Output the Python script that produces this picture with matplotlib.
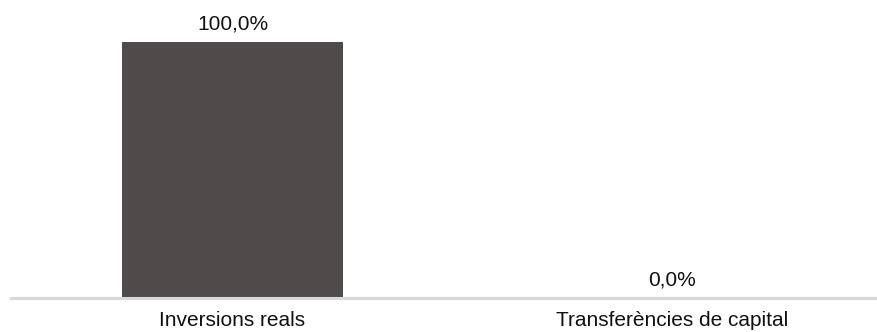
import matplotlib.pyplot as plt
import numpy as np

plt.rcParams['font.family'] = ['Liberation Sans', 'DejaVu Sans']

# Data
categories = ['Inversions reals', 'Transferències de capital']
values = [100.0, 0.0]
value_labels = ['100,0%', '0,0%']

x = np.arange(len(categories))

fig = plt.figure(figsize=(8.78, 3.32), dpi=100)
ax = fig.add_axes([11 / 878, 1 - 297.5 / 332, 867 / 878, 297.5 / 332])

ax.bar(x, values, width=0.503, color='#4f4b4b')

# value labels above the bars
for xi, v, lab in zip(x, values, value_labels):
    ax.annotate(lab, (xi, v), xytext=(0, 8.6), textcoords='offset points',
                ha='center', va='baseline', fontsize=15, color='#111111')

ax.set_xlim(-0.504, 1.469)
ax.set_ylim(0, 116.4)
ax.set_xticks(x)
ax.set_xticklabels(categories, fontsize=15, color='#111111')
ax.tick_params(axis='x', length=0, pad=10)
ax.set_yticks([])

for side in ['top', 'right', 'left']:
    ax.spines[side].set_visible(False)
ax.spines['bottom'].set_color('#d9d9d9')
ax.spines['bottom'].set_linewidth(2.2)

fig.savefig('out.png', dpi=100)
